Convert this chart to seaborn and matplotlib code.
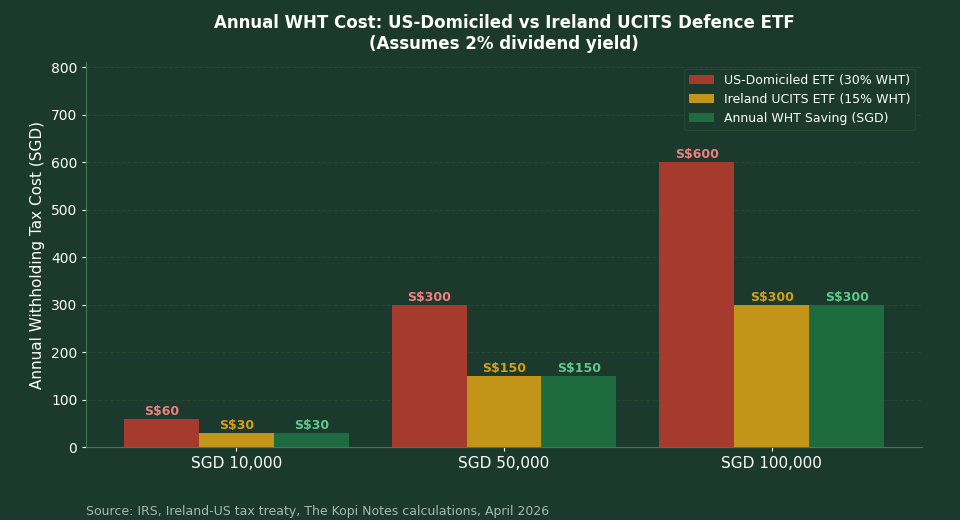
import pandas as pd
import seaborn as sns
import matplotlib.pyplot as plt

# Investment amounts and annual WHT cost at 2% yield
amounts = ['SGD 10,000', 'SGD 50,000', 'SGD 100,000']
series = ['US-Domiciled ETF (30% WHT)', 'Ireland UCITS ETF (15% WHT)', 'Annual WHT Saving (SGD)']
us_wht = [60, 300, 600]
ie_wht = [30, 150, 300]
saving = [30, 150, 300]

bg = '#1b3a2d'
bar_colors = ['#a63a2c', '#c29418', '#1e6b40']
label_colors = ['#f08080', '#d4a017', '#5fc98a']

rows = []
for i, amt in enumerate(amounts):
    rows.append([amt, series[0], us_wht[i]])
    rows.append([amt, series[1], ie_wht[i]])
    rows.append([amt, series[2], saving[i]])
df = pd.DataFrame(rows, columns=['amount', 'series', 'cost'])

sns.set_style('dark')
plt.rcParams['font.family'] = ['DejaVu Sans']

fig, ax = plt.subplots(figsize=(9.6, 5.2), dpi=100)
fig.patch.set_facecolor(bg)
ax.set_facecolor(bg)

sns.barplot(data=df, x='amount', y='cost', hue='series', palette=bar_colors,
            width=0.84, saturation=1, linewidth=0, edgecolor='none', ax=ax, zorder=3)

# value labels above bars
for k, cont in enumerate(ax.containers):
    for bar in cont:
        h = bar.get_height()
        ax.text(bar.get_x() + bar.get_width() / 2, h + 2, f'S${h:.0f}',
                ha='center', va='bottom', fontsize=9, fontweight='bold',
                color=label_colors[k], zorder=4)

ax.set_xlim(-0.56, 2.56)
ax.set_ylim(0, 810)
ax.set_yticks(range(0, 801, 100))
ax.grid(axis='y', color='#24482f', linestyle='--', linewidth=0.8, zorder=0)
ax.grid(axis='x', visible=False)

ax.set_title('Annual WHT Cost: US-Domiciled vs Ireland UCITS Defence ETF\n(Assumes 2% dividend yield)',
             color='white', fontsize=12, fontweight='bold', pad=10)
ax.set_xlabel('')
ax.set_ylabel('Annual Withholding Tax Cost (SGD)', color='white', fontsize=11)
ax.tick_params(axis='x', colors='white', labelsize=11, length=3, bottom=True)
ax.tick_params(axis='y', colors='white', labelsize=10, length=3, left=True)

for side in ['top', 'right']:
    ax.spines[side].set_visible(False)
for side in ['left', 'bottom']:
    ax.spines[side].set_visible(True)
    ax.spines[side].set_color('#3f7a52')
    ax.spines[side].set_linewidth(0.8)

leg = ax.legend(loc='upper right', fontsize=9, facecolor=bg, edgecolor='#24482f',
                labelcolor='white', framealpha=1)
leg.get_frame().set_linewidth(0.8)

fig.text(0.09, 0.01, 'Source: IRS, Ireland-US tax treaty, The Kopi Notes calculations, April 2026',
         color='#a8b8ad', fontsize=9)

plt.subplots_adjust(left=0.09, right=0.96, top=0.88, bottom=0.14)
plt.savefig('out.png', dpi=100, facecolor=bg)
